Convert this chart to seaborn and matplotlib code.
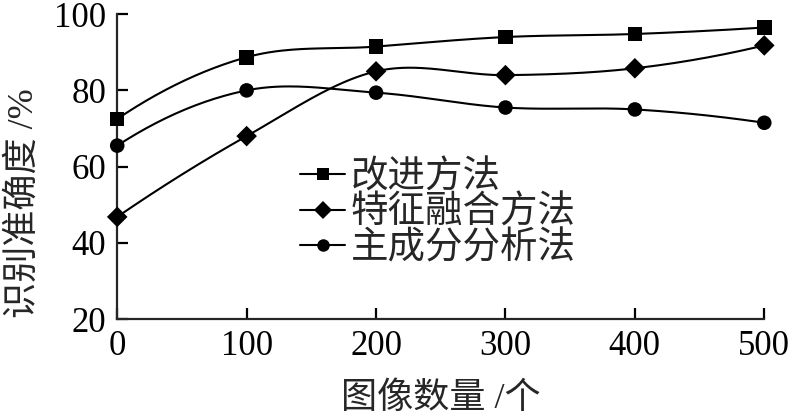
import numpy as np
import pandas as pd
import matplotlib
matplotlib.use("Agg")
import matplotlib.pyplot as plt
import seaborn as sns
from matplotlib.lines import Line2D

# données
x_vals = [0, 100, 200, 300, 400, 500]
methods = ["改进方法", "特征融合方法", "主成分分析法"]
acc_improved = [72.5, 88.7, 91.5, 94.0, 94.8, 96.5]
acc_fusion = [46.8, 68.0, 85.0, 84.0, 85.8, 91.8]
acc_pca = [65.5, 80.0, 79.4, 75.5, 75.0, 71.5]
markers = ["s", "D", "o"]


def smooth(x, y, n=40):
    # courbe lissée type Catmull-Rom passant par les points
    x = np.asarray(x, float)
    y = np.asarray(y, float)
    m = np.zeros_like(y)
    m[1:-1] = (y[2:] - y[:-2]) / (x[2:] - x[:-2])
    m[0] = 2 * (y[1] - y[0]) / (x[1] - x[0]) - m[1]
    m[-1] = 2 * (y[-1] - y[-2]) / (x[-1] - x[-2]) - m[-2]
    xs, ys = [], []
    for i in range(len(x) - 1):
        h = x[i + 1] - x[i]
        t = np.linspace(0, 1, n, endpoint=(i == len(x) - 2))
        h00 = 2 * t**3 - 3 * t**2 + 1
        h10 = t**3 - 2 * t**2 + t
        h01 = -2 * t**3 + 3 * t**2
        h11 = t**3 - t**2
        xs.append(x[i] + t * h)
        ys.append(h00 * y[i] + h10 * h * m[i] + h01 * y[i + 1] + h11 * h * m[i + 1])
    return np.concatenate(xs), np.concatenate(ys)


sns.set_style("ticks")
plt.rcParams["font.family"] = ["Liberation Serif", "Noto Sans CJK SC"]
plt.rcParams["axes.linewidth"] = 1.6

fig = plt.figure(figsize=(7.92, 4.17), dpi=100)
ax = fig.add_axes([0.148, 0.235, 0.817, 0.731])

series = [acc_improved, acc_fusion, acc_pca]
dense = []
points = []
for name, vals in zip(methods, series):
    xs, ys = smooth(x_vals, vals)
    dense.append(pd.DataFrame({"n": xs, "acc": ys, "method": name}))
    points.append(pd.DataFrame({"n": x_vals, "acc": vals, "method": name}))
dense = pd.concat(dense)
points = pd.concat(points)

sns.lineplot(data=dense, x="n", y="acc", units="method", estimator=None,
             color="black", linewidth=1.5, ax=ax, sort=False)
sns.scatterplot(data=points, x="n", y="acc", style="method",
                markers=dict(zip(methods, markers)), color="black",
                s=110, edgecolor="black", linewidth=0, ax=ax, legend=False,
                zorder=3, clip_on=False)

ax.set_xlim(0, 500)
ax.set_ylim(20, 100)
ax.set_xticks(x_vals)
ax.set_yticks([20, 40, 60, 80, 100])
sns.despine(ax=ax)
ax.tick_params(direction="in", length=8, width=1.6, labelsize=25, pad=8, colors="black")

ax.set_xlabel("图像数量 /个", fontsize=26, labelpad=14)
ax.set_ylabel("识别准确度 /%", fontsize=26)
ax.yaxis.set_label_coords(-0.118, 0.38)

handles = [Line2D([], [], color="black", linewidth=1.5, marker=mk, markersize=9,
                  markeredgewidth=0) for mk in markers]
ax.legend(handles, methods, loc="upper left", bbox_to_anchor=(0.283, 0.52),
          frameon=False, fontsize=27, handlelength=1.2, handletextpad=0.15,
          labelspacing=0.0, borderpad=0, borderaxespad=0)

plt.savefig("out.png", dpi=100)
